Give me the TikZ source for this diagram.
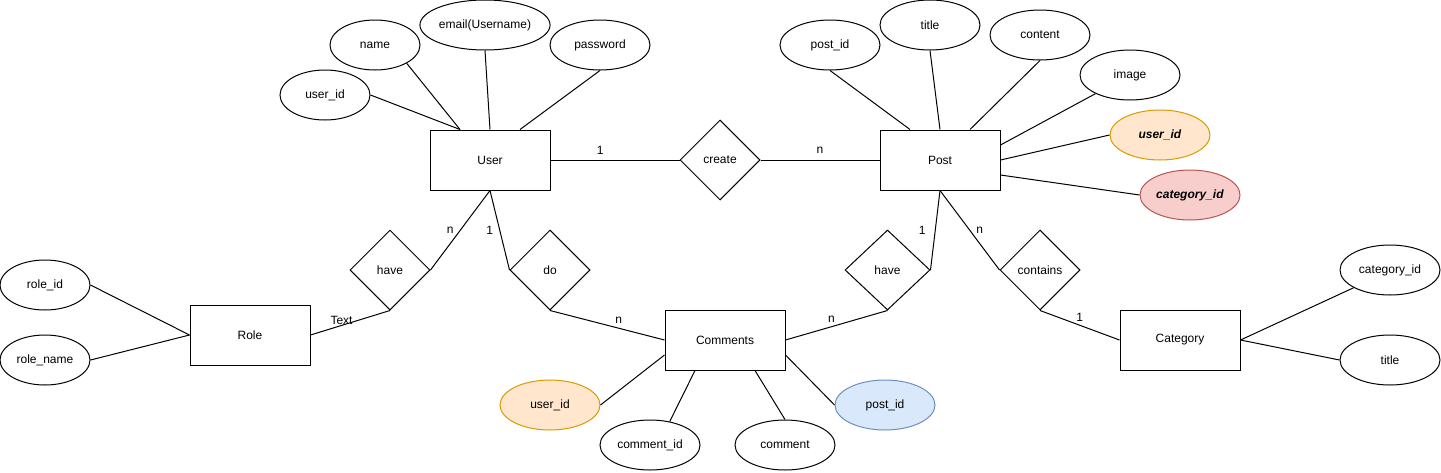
\documentclass[tikz,border=0pt]{standalone}
\usepackage{fontspec}
\setmainfont{Liberation Sans}
\usetikzlibrary{shapes.geometric}
\definecolor{orangefill}{HTML}{FFE6CC}
\definecolor{orangeline}{HTML}{D79B00}
\definecolor{redfill}{HTML}{F8CECC}
\definecolor{redline}{HTML}{B85450}
\definecolor{bluefill}{HTML}{DAE8FC}
\definecolor{blueline}{HTML}{6C8EBF}
\begin{document}
\begin{tikzpicture}[x=1pt,y=-1pt,line width=1pt,
  font=\fontsize{12}{14}\selectfont,
  entity/.style={draw,rectangle,minimum width=120pt,minimum height=60pt,inner sep=0pt},
  attr/.style={draw,ellipse,minimum width=100pt,minimum height=50pt,inner sep=0pt},
  rel/.style={draw,diamond,minimum width=80pt,minimum height=80pt,inner sep=0pt},
  fk/.style={attr,fill=orangefill,draw=orangeline},
  fkred/.style={attr,fill=redfill,draw=redline},
  fkblue/.style={attr,fill=bluefill,draw=blueline},
  lbl/.style={inner sep=0pt,font=\fontsize{12}{14}\selectfont}]
\useasboundingbox (0,0) rectangle (1441,472);
% entities
\node[entity] (user) at (490,160) {User};
\node[entity] (post) at (940,160) {Post};
\node[entity] (role) at (250,335) {Role};
\node[entity] (comments) at (725,340) {Comments};
\node[entity] (category) at (1180,340) {Category};
% relations
\node[rel] (create) at (720,160) {create};
\node[rel] (have1) at (390,270) {have};
\node[rel] (do) at (550,270) {do};
\node[rel,minimum width=85pt] (have2) at (887.5,270) {have};
\node[rel] (contains) at (1040,270) {contains};
% user attributes
\node[attr,minimum width=90pt] (uid) at (325,95) {user\_id};
\node[attr,minimum width=90pt] (name) at (375,45) {name};
\node[attr,minimum width=110pt] (email) at (485,25) {email(Username)};
\node[attr] (pw) at (600,45) {password};
% post attributes
\node[attr] (pid) at (830,45) {post\_id};
\node[attr] (ptitle) at (930,25) {title};
\node[attr] (content) at (1040,35) {content};
\node[attr] (image) at (1130,75) {image};
\node[fk] (puid) at (1160,135) {\textbf{\textit{user\_id}}};
\node[fkred] (pcat) at (1190,195) {\textbf{\textit{category\_id}}};
% role attributes
\node[attr,minimum width=90pt] (rid) at (45,285) {role\_id};
\node[attr,minimum width=90pt] (rname) at (45,360) {role\_name};
% comments attributes
\node[fk] (cuid) at (550,405) {user\_id};
\node[attr] (cid) at (650,445) {comment\_id};
\node[attr] (comment) at (785,445) {comment};
\node[fkblue] (cpid) at (885,405) {post\_id};
% category attributes
\node[attr] (catid) at (1390,270) {category\_id};
\node[attr] (ctitle) at (1390,360) {title};
% attribute connectors
\draw (uid.east) -- ([xshift=-30pt]user.north);
\draw (name.-30) -- ([xshift=-30pt]user.north);
\draw (email.south) -- (user.north);
\draw (pw.south) -- ([xshift=30pt]user.north);
\draw (pid.south) -- ([xshift=-30pt]post.north);
\draw (ptitle.south) -- (post.north);
\draw (content.south) -- ([xshift=30pt]post.north);
\draw (image) -- ([yshift=15pt]post.east);
\draw (puid.west) -- (post.east);
\draw (pcat.west) -- ([yshift=-15pt]post.east);
\draw (rid.east) -- (role.west);
\draw (rname.east) -- (role.west);
\draw (cuid.east) -- ([yshift=-15pt]comments.west);
\draw (cid.50) -- ([xshift=-30pt]comments.south);
\draw (comment.north) -- ([xshift=30pt]comments.south);
\draw (cpid.west) -- ([yshift=-15pt]comments.east);
\draw (catid.206) -- (category.east);
\draw (ctitle.west) -- (category.east);
% relationship connectors
\draw (user.east) -- node[lbl,pos=0.385,yshift=10pt] {1} (create.west);
\draw (create.east) -- node[lbl,pos=0.5,yshift=10pt] {n} (post.west);
\draw (role.east) -- node[lbl,pos=0.39,yshift=5pt] {Text} (have1.south);
\draw (have1.east) -- node[lbl,pos=0.5,xshift=-10pt] {n} (user.south);
\draw (user.south) -- node[lbl,pos=0.5,xshift=-10pt] {1} (do.west);
\draw (do.south) -- node[lbl,pos=0.6,yshift=8pt] {n} (comments.west);
\draw (have2.east) -- node[lbl,pos=0.5,xshift=-13pt] {1} (post.south);
\draw (post.south) -- node[lbl,pos=0.5,xshift=10pt] {n} (contains.west);
\draw (have2.south) -- node[lbl,pos=0.55,yshift=7pt] {n} (comments.east);
\draw (contains.south) -- node[lbl,pos=0.5,yshift=8pt] {1} (category.west);
\end{tikzpicture}
\end{document}
